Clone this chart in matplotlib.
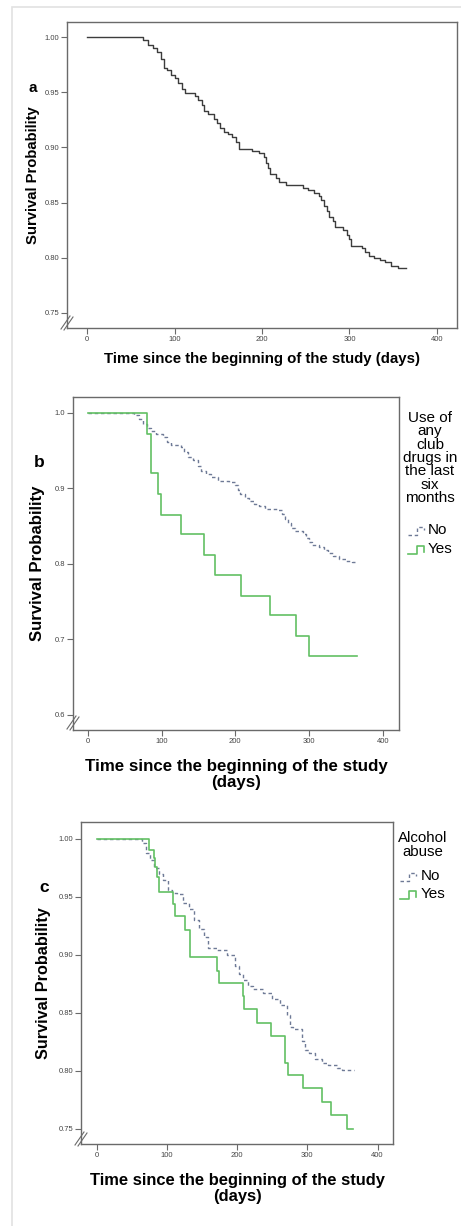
import numpy as np
import matplotlib.pyplot as plt
from matplotlib.lines import Line2D
from matplotlib.patches import Rectangle

plt.rcParams['font.family'] = ['Liberation Sans', 'DejaVu Sans']

W, H = 461, 1226                       # mida en píxels

# ---- dades (llegides de la figura) ----
# a: totes les persones
a_days = [0, 64, 70, 75, 80, 84, 88, 91, 96, 100, 104, 108, 112, 123, 127, 131, 134, 138,
          145, 149, 152, 156, 161, 166, 170, 174, 188, 197, 202, 205, 207, 209, 216, 220,
          228, 247, 253, 259, 265, 268, 271, 274, 277, 281, 284, 293, 297, 300, 302, 314,
          318, 322, 328, 335, 341, 348, 356, 365]
a_surv = [1.000, 0.997, 0.993, 0.990, 0.986, 0.980, 0.972, 0.970, 0.966, 0.963, 0.958, 0.953,
          0.949, 0.947, 0.943, 0.938, 0.933, 0.930, 0.926, 0.922, 0.918, 0.914, 0.912, 0.909,
          0.905, 0.899, 0.897, 0.895, 0.891, 0.886, 0.881, 0.876, 0.872, 0.869, 0.866, 0.863,
          0.861, 0.859, 0.856, 0.852, 0.847, 0.842, 0.837, 0.833, 0.828, 0.825, 0.821, 0.817,
          0.811, 0.809, 0.805, 0.802, 0.800, 0.798, 0.796, 0.793, 0.791, 0.791]

# b: club drugs
b_no_days = [0, 63, 70, 75, 80, 86, 93, 102, 108, 113, 127, 131, 136, 143, 149, 154, 160, 167,
             176, 192, 200, 204, 207, 213, 219, 226, 232, 240, 258, 264, 268, 271, 276, 281,
             292, 296, 300, 304, 314, 320, 326, 333, 341, 350, 358, 362]
b_no_surv = [1.000, 0.997, 0.992, 0.985, 0.980, 0.976, 0.972, 0.968, 0.962, 0.957, 0.955, 0.948,
             0.942, 0.937, 0.930, 0.923, 0.919, 0.915, 0.910, 0.908, 0.905, 0.898, 0.892, 0.887,
             0.883, 0.879, 0.876, 0.873, 0.871, 0.866, 0.860, 0.854, 0.848, 0.844, 0.840, 0.834,
             0.829, 0.825, 0.823, 0.818, 0.814, 0.810, 0.807, 0.804, 0.802, 0.802]
b_yes_days = [0, 80, 86, 95, 99, 126, 157, 172, 208, 247, 282, 300, 365]
b_yes_surv = [1.000, 0.972, 0.920, 0.893, 0.865, 0.839, 0.812, 0.785, 0.758, 0.732, 0.705,
              0.678, 0.678]

# c: abús d'alcohol
c_no_days = [0, 64, 70, 76, 81, 88, 95, 102, 107, 114, 123, 131, 138, 146, 153, 159, 171, 185,
             197, 202, 208, 216, 223, 237, 249, 261, 271, 275, 280, 292, 297, 302, 311, 321,
             330, 342, 349, 366]
c_no_surv = [1.000, 0.996, 0.988, 0.982, 0.975, 0.970, 0.964, 0.956, 0.953, 0.952, 0.945, 0.939,
             0.930, 0.922, 0.915, 0.906, 0.904, 0.900, 0.890, 0.883, 0.878, 0.873, 0.870, 0.867,
             0.862, 0.857, 0.848, 0.838, 0.836, 0.826, 0.818, 0.815, 0.810, 0.807, 0.805, 0.802,
             0.801, 0.801]
c_yes_days = [0, 74, 81, 83, 86, 89, 109, 112, 126, 133, 172, 174, 208, 210, 228, 248, 268,
              272, 294, 321, 333, 356, 365]
c_yes_surv = [1.000, 0.990, 0.983, 0.976, 0.967, 0.954, 0.944, 0.933, 0.921, 0.898, 0.886,
              0.876, 0.864, 0.853, 0.841, 0.830, 0.807, 0.796, 0.785, 0.773, 0.762, 0.750, 0.750]

xticks = [0, 100, 200, 300, 400]
a_yticks = [0.75, 0.80, 0.85, 0.90, 0.95, 1.00]
b_yticks = [0.6, 0.7, 0.8, 0.9, 1.0]
c_yticks = [0.75, 0.80, 0.85, 0.90, 0.95, 1.00]
xlabel = 'Time since the beginning of the study (days)'
xlabel2 = 'Time since the beginning of the study\n(days)'

GREEN = '#62c064'
DASH = '#6e7a96'
AXC = '#6a6a6a'

fig = plt.figure(figsize=(W / 100, H / 100), dpi=100)

# marc gris de fons
fig.add_artist(Rectangle((12 / W, -0.01), 1.0, 1 - 7 / H + 0.01, transform=fig.transFigure,
                         fill=False, edgecolor='#e2e2e2', linewidth=1.2))


def fx(px):
    return px / W


def fy(py):
    return 1 - py / H


def new_axes(x0, y0, x1, y1):
    ax = fig.add_axes([fx(x0), fy(y1), (x1 - x0) / W, (y1 - y0) / H])
    for s in ax.spines.values():
        s.set_color(AXC)
        s.set_linewidth(1.0)
    ax.tick_params(length=4, width=0.8, color=AXC, labelsize=5.5, labelcolor='#444444', pad=1.5)
    return ax


def fig_line(xs, ys, **kw):
    fig.add_artist(Line2D([fx(v) for v in xs], [fy(v) for v in ys],
                          transform=fig.transFigure, **kw))


def brk(x, y):                           # marca de tall de l'eix
    fig_line([x - 6, x + 3], [y + 7, y - 6], color=AXC, lw=0.8)
    fig_line([x - 3, x + 6], [y + 8, y - 5], color=AXC, lw=0.8)


def handle(x0, y0, dashed):              # símbol de llegenda (esglaó)
    if dashed:
        fig_line([x0, x0 + 9, x0 + 9, x0 + 16, x0 + 16], [y0 + 4, y0 + 4, y0 - 4, y0 - 4, y0 - 1],
                 color=DASH, lw=1.0, ls=(0, (2.5, 2)))
    else:
        fig_line([x0, x0 + 9, x0 + 9, x0 + 16, x0 + 16], [y0 + 4, y0 + 4, y0 - 4, y0 - 4, y0 + 2],
                 color=GREEN, lw=1.2)


# ---- panell a ----
ax = new_axes(67, 22, 457, 328)
ax.step(a_days, a_surv, where='post', color='#3c3c3c', lw=1.0)
ax.set_xlim(-23, 423)
ax.set_ylim(0.7364, 1.0136)
ax.set_xticks(xticks)
ax.set_yticks(a_yticks)
ax.set_yticklabels([f'{v:.2f}' for v in a_yticks])
ax.set_xlabel(xlabel, fontsize=10.8, fontweight='bold', labelpad=7)
ax.set_ylabel('Survival Probability', fontsize=10.7, fontweight='bold')
ax.yaxis.set_label_coords(-0.069, 0.5)
fig.text(fx(33), fy(88), 'a', fontsize=11, fontweight='bold', ha='center', va='center')
brk(67, 322)

# ---- panell b ----
ax = new_axes(73, 397, 399, 730)
ax.step(b_no_days, b_no_surv, where='post', color=DASH, lw=1.0, ls=(0, (2.5, 2)))
ax.step(b_yes_days, b_yes_surv, where='post', color=GREEN, lw=1.2)
ax.set_xlim(-20, 422)
ax.set_ylim(0.58, 1.021)
ax.set_xticks(xticks)
ax.set_yticks(b_yticks)
ax.set_yticklabels([f'{v:.1f}' for v in b_yticks])
ax.set_xlabel(xlabel2, fontsize=12.2, fontweight='bold', labelpad=10, linespacing=1.15)
ax.set_ylabel('Survival Probability', fontsize=12.1, fontweight='bold')
ax.yaxis.set_label_coords(-0.086, 0.5)
fig.text(fx(39), fy(463), 'b', fontsize=12.5, fontweight='bold', ha='center', va='center')
brk(73, 722)
fig.text(fx(430), fy(458), 'Use of\nany\nclub\ndrugs in\nthe last\nsix\nmonths', fontsize=11,
         ha='center', va='center', linespacing=0.95)
fig.text(fx(428), fy(530), 'No', fontsize=11, ha='left', va='center')
fig.text(fx(428), fy(549), 'Yes', fontsize=11, ha='left', va='center')
handle(408, 531, True)
handle(408, 550, False)

# ---- panell c ----
ax = new_axes(81, 822, 393, 1144)
ax.step(c_no_days, c_no_surv, where='post', color=DASH, lw=1.0, ls=(0, (2.5, 2)))
ax.step(c_yes_days, c_yes_surv, where='post', color=GREEN, lw=1.2)
ax.set_xlim(-22.4, 422)
ax.set_ylim(0.7368, 1.0144)
ax.set_xticks(xticks)
ax.set_yticks(c_yticks)
ax.set_yticklabels([f'{v:.2f}' for v in c_yticks])
ax.set_xlabel(xlabel2, fontsize=11.9, fontweight='bold', labelpad=10, linespacing=1.15)
ax.set_ylabel('Survival Probability', fontsize=11.7, fontweight='bold')
ax.yaxis.set_label_coords(-0.096, 0.5)
fig.text(fx(44), fy(887), 'c', fontsize=12.5, fontweight='bold', ha='center', va='center')
brk(81, 1138)
fig.text(fx(423), fy(845), 'Alcohol\nabuse', fontsize=10.8, ha='center', va='center', linespacing=0.95)
fig.text(fx(421), fy(876), 'No', fontsize=11, ha='left', va='center')
fig.text(fx(421), fy(894), 'Yes', fontsize=11, ha='left', va='center')
handle(400, 877, True)
handle(400, 895, False)

fig.savefig('out.png', dpi=100)
